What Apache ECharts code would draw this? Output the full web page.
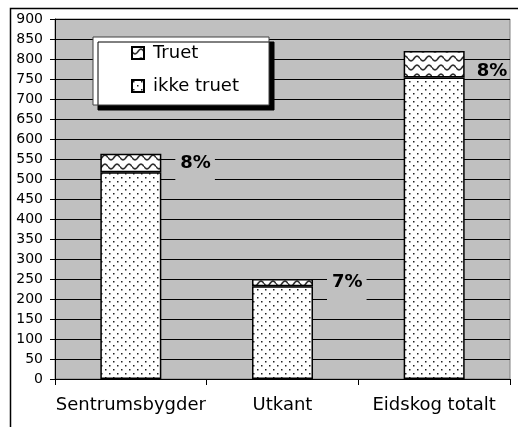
<!DOCTYPE html>
<html>
<head>
<meta charset="utf-8">
<script src="https://cdn.jsdelivr.net/npm/echarts@6/dist/echarts.min.js"></script>
<style>
  html, body { margin: 0; padding: 0; background: #ffffff; }
  #chart { width: 518px; height: 427px; }
</style>
</head>
<body>
<div id="chart"></div>
<script>
// Skog i Eidskog: truet og ikke truet, per område
const categories = ['Sentrumsbygder', 'Utkant', 'Eidskog totalt'];
const ikkeTruet = [517, 232, 754];
const truet = [46, 18, 66];
const yTicks = { min: 0, max: 900, interval: 50 };

// Fill patterns drawn on small tile canvases
function dotTile() {
  const c = document.createElement('canvas');
  c.width = 8; c.height = 8;
  const g = c.getContext('2d');
  g.fillStyle = '#ffffff';
  g.fillRect(0, 0, 8, 8);
  g.fillStyle = '#202020';
  g.fillRect(1, 1, 1.5, 1.5);
  g.fillRect(5, 5, 1.5, 1.5);
  return c;
}
function waveTile() {
  const c = document.createElement('canvas');
  c.width = 12; c.height = 9;
  const g = c.getContext('2d');
  g.fillStyle = '#ffffff';
  g.fillRect(0, 0, 12, 9);
  g.strokeStyle = '#303030';
  g.lineWidth = 1.6;
  g.beginPath();
  for (let x = 0; x <= 12; x += 0.5) {
    const y = 4.5 + 2.4 * Math.sin((x / 12) * Math.PI * 2);
    if (x === 0) g.moveTo(x, y); else g.lineTo(x, y);
  }
  g.stroke();
  return c;
}
const dotFill = { image: dotTile(), repeat: 'repeat' };
const waveFill = { image: waveTile(), repeat: 'repeat' };

const pct = truet.map((t, i) => Math.round(t / (t + ikkeTruet[i]) * 100) + '%');

const chart = echarts.init(document.getElementById('chart'), null, { renderer: 'canvas' });

chart.setOption({
  animation: false,
  backgroundColor: '#ffffff',
  graphic: [{
    type: 'rect',
    left: 8, top: 6,
    shape: { width: 530, height: 440 },
    style: { fill: 'none', stroke: '#000000', lineWidth: 1.5 },
    z: 100,
    silent: true
  }],
  grid: {
    left: 55, right: 8, top: 19, bottom: 48,
    show: true,
    backgroundColor: '#c0c0c0',
    borderColor: '#808080',
    borderWidth: 1
  },
  legend: {
    data: ['Truet', 'ikke truet'],
    orient: 'vertical',
    left: 93, top: 37,
    padding: [6, 30, 9, 38],
    icon: 'rect',
    itemWidth: 12, itemHeight: 12,
    itemGap: 13,
    backgroundColor: '#ffffff',
    borderColor: '#404040',
    borderWidth: 1,
    shadowColor: '#000000',
    shadowBlur: 0,
    shadowOffsetX: 5,
    shadowOffsetY: 5,
    textStyle: {
      fontFamily: 'DejaVu Sans', fontSize: 18, color: '#000000',
      lineHeight: 20, padding: [0, 0, 0, 4]
    }
  },
  xAxis: {
    type: 'category',
    data: categories,
    axisLine: { show: true, lineStyle: { color: '#000000', width: 1 } },
    axisTick: { show: true, length: 6, lineStyle: { color: '#000000' } },
    axisLabel: { interval: 0, fontFamily: 'DejaVu Sans', fontSize: 18, color: '#000000', margin: 17 },
    splitLine: { show: false }
  },
  yAxis: {
    type: 'value',
    min: yTicks.min, max: yTicks.max, interval: yTicks.interval,
    axisLine: { show: true, lineStyle: { color: '#000000', width: 1 } },
    axisTick: { show: true, length: 5, lineStyle: { color: '#000000' } },
    axisLabel: { fontFamily: 'DejaVu Sans', fontSize: 14, color: '#000000', margin: 12 },
    splitLine: { show: true, lineStyle: { color: '#000000', width: 1 } }
  },
  series: [
    {
      name: 'ikke truet',
      type: 'bar',
      stack: 'total',
      barWidth: 61,
      data: ikkeTruet,
      itemStyle: { color: dotFill, borderColor: '#000000', borderWidth: 1.5 }
    },
    {
      name: 'Truet',
      type: 'bar',
      stack: 'total',
      barWidth: 61,
      data: truet.map((v, i) => i === truet.length - 1
        ? { value: v, label: { distance: 12, padding: 0, backgroundColor: 'transparent', offset: [0, 7] } }
        : v),
      itemStyle: { color: waveFill, borderColor: '#000000', borderWidth: 1.5 },
      label: {
        show: true,
        position: 'right',
        distance: 14,
        formatter: p => pct[p.dataIndex],
        fontFamily: 'DejaVu Sans',
        fontWeight: 'bold',
        fontSize: 18,
        color: '#000000',
        backgroundColor: '#c0c0c0',
        padding: [10, 4, 10, 5]
      }
    }
  ]
});
</script>
</body>
</html>
